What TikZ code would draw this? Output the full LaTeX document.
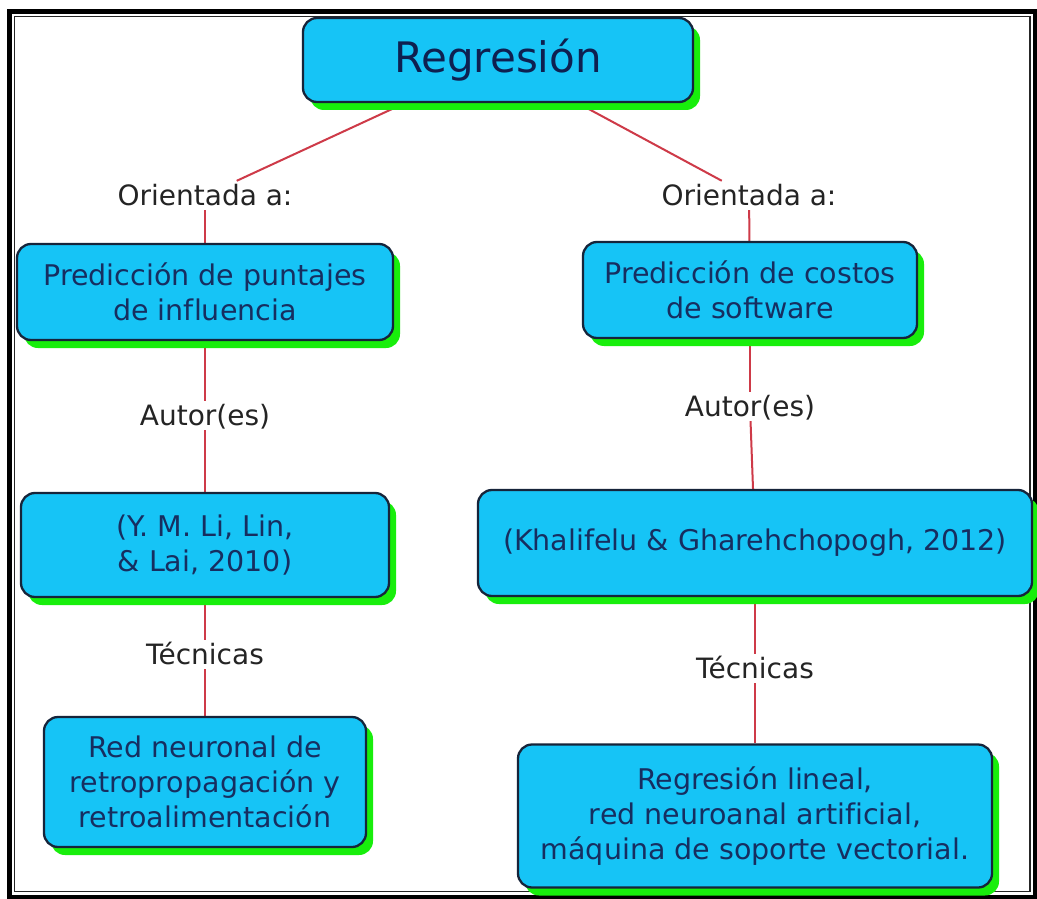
\documentclass[tikz,border=0pt]{standalone}
\usepackage{fontspec}
\setmainfont{DejaVu Sans}[Ligatures={NoCommon}]
\usetikzlibrary{shadows,backgrounds}

\definecolor{boxfill}{RGB}{22,196,246}
\definecolor{boxline}{RGB}{22,36,58}
\definecolor{boxtext}{RGB}{22,46,96}
\definecolor{titletext}{RGB}{14,32,80}
\definecolor{shadowgreen}{RGB}{24,238,12}
\definecolor{linkred}{RGB}{206,58,72}
\definecolor{labeltext}{RGB}{36,36,36}

\begin{document}
\begin{tikzpicture}[x=1pt,y=-1pt,
  concept/.style={draw=boxline, line width=2.3pt, fill=boxfill,
    rounded corners=14pt, align=center, text=boxtext, inner sep=0pt,
    font=\fontsize{28.5}{35}\selectfont,
    general shadow={fill=shadowgreen, shadow xshift=7pt, shadow yshift=-8pt}},
  linklabel/.style={text=labeltext, font=\fontsize{28}{34}\selectfont,
    inner sep=2pt, text height=22pt, text depth=3pt, anchor=base},
  link/.style={draw=linkred, line width=2pt}]

\useasboundingbox (0,0) rectangle (1037,899);

% root concept
\node[concept, minimum width=390pt, minimum height=84pt, text=titletext,
      font=\fontsize{42}{48}\selectfont] (reg) at (498,60) {Regresión};

% left branch
\node[linklabel] (o1) at (205,205) {Orientada a:};
\node[concept, minimum width=376pt, minimum height=96pt] (p1) at (205,292)
  {Predicción de puntajes\\de influencia};
\node[linklabel] (a1) at (205,425) {Autor(es)};
\node[concept, minimum width=368pt, minimum height=104pt] (y1) at (205,545)
  {(Y. M. Li, Lin,\\ \& Lai, 2010)};
\node[linklabel] (t1) at (205,664) {Técnicas};
\node[concept, minimum width=322pt, minimum height=130pt] (r1) at (205,782)
  {Red neuronal de\\retropropagación y\\ retroalimentación};

% right branch
\node[linklabel] (o2) at (749,205) {Orientada a:};
\node[concept, minimum width=334pt, minimum height=96pt] (p2) at (750,290)
  {Predicción de costos\\de software};
\node[linklabel] (a2) at (750,416) {Autor(es)};
\node[concept, minimum width=554pt, minimum height=106pt] (y2) at (755,543)
  {(Khalifelu \& Gharehchopogh, 2012)};
\node[linklabel] (t2) at (755,678) {Técnicas};
\node[concept, minimum width=474pt, minimum height=143pt] (r2) at (755,816)
  {Regresión lineal,\\red neuroanal artificial,\\máquina de soporte vectorial.};

\begin{pgfonlayer}{background}
  \fill[white] (0,0) rectangle (1037,899);
  % double frame
  \draw[black, line width=5pt] (9.5,11.5) rectangle (1035,897);
  \draw[black!85, line width=1.3pt] (14.8,16.6) rectangle (1030,891.5);
  % connectors
  \draw[link] (reg) -- (o1);
  \draw[link] (o1) -- (p1);
  \draw[link] (p1) -- (a1);
  \draw[link] (a1) -- (y1);
  \draw[link] (y1) -- (t1);
  \draw[link] (t1) -- (r1);
  \draw[link] (reg) -- (o2);
  \draw[link] (o2) -- (p2);
  \draw[link] (p2) -- (a2);
  \draw[link] (a2) -- (y2);
  \draw[link] (y2) -- (t2);
  \draw[link] (t2) -- (r2);
\end{pgfonlayer}
\end{tikzpicture}
\end{document}
